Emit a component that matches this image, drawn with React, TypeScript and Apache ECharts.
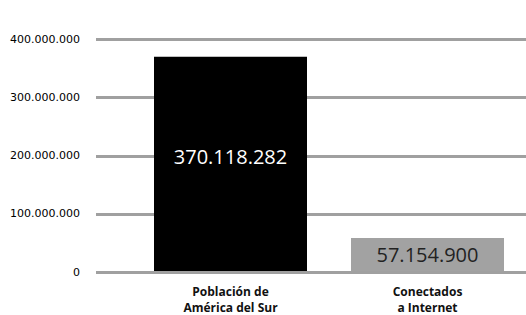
import React, { useEffect, useRef } from 'react';
import * as echarts from 'echarts';

const categories = ['Población de\nAmérica del Sur', 'Conectados\na Internet'];
const values = [370118282, 57154900];
const valueLabels = ['370.118.282', '57.154.900'];
const barColors = ['#000000', '#a2a2a2'];
const labelColors = ['#ffffff', '#222222'];
const yMax = 400000000;
const yInterval = 100000000;

const fmt = (v: number) => String(v).replace(/\B(?=(\d{3})+(?!\d))/g, '.');

export default function App() {
  const ref = useRef<HTMLDivElement>(null);
  useEffect(() => {
    if (!ref.current) return;
    const chart = echarts.init(ref.current, null, { renderer: 'svg' });
    chart.setOption({
      animation: false,
      backgroundColor: '#ffffff',
      grid: [
        { left: 96, right: 0, top: 39.5, bottom: 43 },
        { left: 132, right: 0, top: 39.5, bottom: 43 },
      ],
      xAxis: [
        { type: 'category', gridIndex: 0, data: categories, show: false },
        {
          type: 'category',
          gridIndex: 1,
          data: categories,
          axisLine: { show: false },
          axisTick: { show: false },
          axisLabel: {
            margin: 12,
            fontFamily: 'Open Sans',
            fontWeight: 'bold',
            fontSize: 12,
            lineHeight: 16,
            color: '#111111',
          },
        },
      ],
      yAxis: [
        {
          type: 'value',
          gridIndex: 0,
          min: 0,
          max: yMax,
          interval: yInterval,
          axisLine: { show: false },
          axisTick: { show: false },
          axisLabel: {
            margin: 16,
            fontFamily: 'DejaVu Sans',
            fontSize: 11,
            color: '#000000',
            formatter: (v: number) => fmt(v),
          },
          splitLine: { lineStyle: { color: '#a0a0a0', width: 3 } },
        },
        {
          type: 'value',
          gridIndex: 1,
          min: 0,
          max: yMax,
          interval: yInterval,
          show: false,
          splitLine: { show: false },
        },
      ],
      series: [
        {
          type: 'bar',
          xAxisIndex: 1,
          yAxisIndex: 1,
          barWidth: 153,
          data: values.map((v, i) => ({
            value: v,
            itemStyle: { color: barColors[i] },
            label: {
              show: true,
              formatter: valueLabels[i],
              color: labelColors[i],
              fontFamily: 'Open Sans',
              fontSize: 20,
              position: i === 0 ? ['50%', 100] : 'inside',
              align: 'center',
              verticalAlign: 'middle',
            },
          })),
        },
      ],
    });
    return () => chart.dispose();
  }, []);
  return (
    <div
      ref={ref}
      style={{ position: 'fixed', left: 0, top: 0, width: 526, height: 315 }}
    />
  );
}
